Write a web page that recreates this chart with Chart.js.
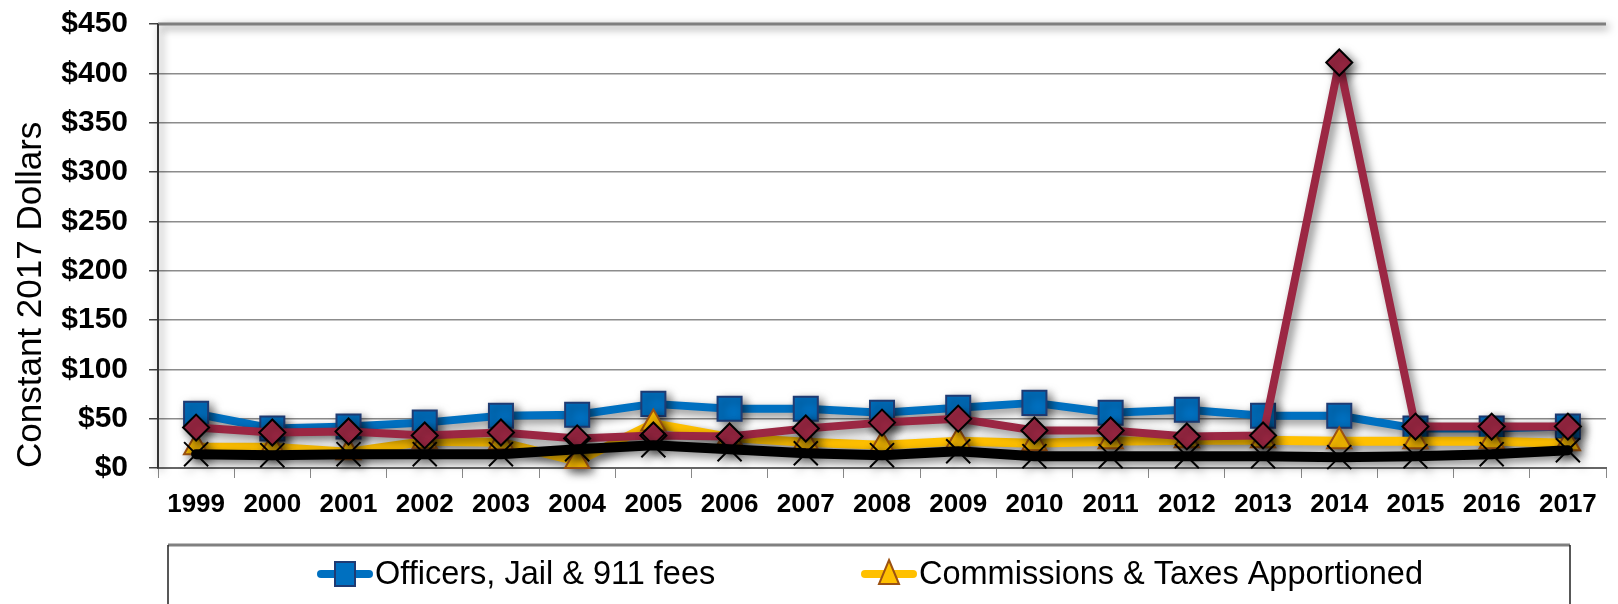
<!DOCTYPE html>
<html>
<head>
<meta charset="utf-8">
<script src="https://cdn.jsdelivr.net/npm/chart.js@4"></script>
<style>
  html, body { margin: 0; padding: 0; background: #fff; overflow: hidden; }
  #wrap { width: 1625px; height: 604px; position: relative; }
</style>
</head>
<body>
<div id="wrap"><canvas id="myChart"></canvas></div>
<script>
const years = ['1999', '2000', '2001', '2002', '2003', '2004', '2005', '2006', '2007', '2008',
    '2009', '2010', '2011', '2012', '2013', '2014', '2015', '2016', '2017'];

const officersFees = [55, 40, 42, 46, 53, 54, 65, 60, 60, 56, 61, 66, 56, 59, 53, 53, 40, 40, 42];
const commissionsTaxes = [21, 21, 16, 27, 26, 7, 45, 31, 26, 23, 27, 25, 27, 28, 28, 27, 27, 27, 25];
const finesForfeitures = [41, 36, 37, 33, 36, 30, 33, 32, 40, 46, 50, 38, 38, 32, 33, 411, 42, 42, 42];
const otherFees = [14, 13, 14, 14, 14, 19, 23, 19, 15, 13, 17, 12, 12, 12, 12, 11, 12, 14, 18];

const yTickLabels = ['$0', '$50', '$100', '$150', '$200', '$250', '$300', '$350', '$400', '$450'];

const FONT = '"Liberation Sans", Arial, sans-serif';

// shadows on the plot frame and on the lines, like the spreadsheet original
const shadowPlugin = {
    id: 'shadowPlugin',
    beforeDatasetsDraw(chart) {
        const ctx = chart.ctx;
        const a = chart.chartArea;
        ctx.save();
        ctx.shadowColor = 'rgba(0,0,0,0.55)';
        ctx.shadowBlur = 8;
        ctx.shadowOffsetX = 3;
        ctx.shadowOffsetY = 3;
        ctx.strokeStyle = '#7f7f7f';
        ctx.lineWidth = 3;
        ctx.beginPath();
        ctx.moveTo(a.left, a.top);
        ctx.lineTo(a.right, a.top);
        ctx.stroke();
        ctx.strokeStyle = '#333';
        ctx.lineWidth = 2;
        ctx.beginPath();
        ctx.moveTo(a.left, a.top);
        ctx.lineTo(a.left, a.bottom);
        ctx.stroke();
        ctx.restore();

        ctx.save();
        ctx.shadowColor = 'rgba(0,0,0,0.5)';
        ctx.shadowBlur = 10;
        ctx.shadowOffsetX = 4;
        ctx.shadowOffsetY = 4;
    },
    afterDatasetsDraw(chart) {
        chart.ctx.restore();
    }
};

function drawMarker(ctx, style, x, y, r) {
    ctx.beginPath();
    if (style === 'rect') {
        ctx.rect(x - r * 0.5, y - r * 0.6, r, r * 1.2);
        ctx.fill();
        ctx.stroke();
    } else if (style === 'triangle') {
        ctx.moveTo(x, y - r * 0.7);
        ctx.lineTo(x + r * 0.5, y + r * 0.5);
        ctx.lineTo(x - r * 0.5, y + r * 0.5);
        ctx.closePath();
        ctx.fill();
        ctx.stroke();
    } else if (style === 'rectRot') {
        ctx.moveTo(x, y - r * 0.6);
        ctx.lineTo(x + r * 0.6, y);
        ctx.lineTo(x, y + r * 0.6);
        ctx.lineTo(x - r * 0.6, y);
        ctx.closePath();
        ctx.fill();
        ctx.stroke();
    } else {
        ctx.moveTo(x - r * 0.5, y - r * 0.5);
        ctx.lineTo(x + r * 0.5, y + r * 0.5);
        ctx.moveTo(x + r * 0.5, y - r * 0.5);
        ctx.lineTo(x - r * 0.5, y + r * 0.5);
        ctx.stroke();
    }
}

// boxed legend in two columns, drawn under the axis
const legendBox = {
    id: 'legendBox',
    afterDraw(chart) {
        const ctx = chart.ctx;
        const boxLeft = 168, boxTop = 545, boxRight = 1570;
        ctx.save();
        ctx.fillStyle = '#fff';
        ctx.fillRect(boxLeft, boxTop, boxRight - boxLeft, 200);
        ctx.strokeStyle = '#808080';
        ctx.lineWidth = 3;
        ctx.beginPath();
        ctx.moveTo(boxLeft, boxTop);
        ctx.lineTo(boxRight, boxTop);
        ctx.stroke();
        ctx.strokeStyle = '#222';
        ctx.lineWidth = 1.5;
        ctx.beginPath();
        ctx.moveTo(boxLeft, boxTop);
        ctx.lineTo(boxLeft, boxTop + 200);
        ctx.moveTo(boxRight, boxTop);
        ctx.lineTo(boxRight, boxTop + 200);
        ctx.stroke();

        const cols = [317, 861];
        const rows = [574, 628];
        chart.data.datasets.forEach((ds, i) => {
            const x = cols[i % 2];
            const y = rows[Math.floor(i / 2)];
            ctx.strokeStyle = ds.borderColor;
            ctx.lineWidth = 8;
            ctx.lineCap = 'round';
            ctx.beginPath();
            ctx.moveTo(x + 4, y);
            ctx.lineTo(x + 52, y);
            ctx.stroke();
            ctx.lineCap = 'butt';
            ctx.fillStyle = ds.pointBackgroundColor;
            ctx.strokeStyle = ds.pointBorderColor;
            ctx.lineWidth = 2;
            drawMarker(ctx, ds.pointStyle, x + 28, y, 20);
            ctx.fillStyle = '#000';
            ctx.font = '32.5px ' + FONT;
            ctx.textBaseline = 'middle';
            ctx.textAlign = 'left';
            ctx.fillText(ds.label, x + 58, y + 1);
        });
        ctx.restore();
    }
};

document.addEventListener('DOMContentLoaded', () => {
    let config = {
        type: 'line',
        data: {
            labels: years,
            datasets: [{
                label: 'Officers, Jail & 911 fees',
                data: officersFees,
                borderColor: '#0070C0',
                borderWidth: 8,
                pointStyle: 'rect',
                pointRadius: 17,
                pointBackgroundColor: '#0070C0',
                pointBorderColor: '#1F3B73',
                pointBorderWidth: 2,
                order: 4
            }, {
                label: 'Commissions & Taxes Apportioned',
                data: commissionsTaxes,
                borderColor: '#FFC000',
                borderWidth: 9,
                pointStyle: 'triangle',
                pointRadius: 14,
                pointBackgroundColor: '#FFC000',
                pointBorderColor: '#9C5212',
                pointBorderWidth: 2,
                order: 3
            }, {
                label: 'Fines & Forfeitures',
                data: finesForfeitures,
                borderColor: '#9B2743',
                borderWidth: 8,
                pointStyle: 'rectRot',
                pointRadius: 13,
                pointBackgroundColor: '#9B2743',
                pointBorderColor: '#000',
                pointBorderWidth: 2,
                order: 2
            }, {
                label: 'Other Fees',
                data: otherFees,
                borderColor: '#000',
                borderWidth: 10,
                pointStyle: 'crossRot',
                pointRadius: 17,
                pointBackgroundColor: '#000',
                pointBorderColor: '#000',
                pointBorderWidth: 2,
                order: 1
            }]
        },
        options: {
            responsive: true,
            maintainAspectRatio: false,
            animation: false,
            clip: 20,
            layout: {
                padding: { left: 0, right: 0, top: 24, bottom: 76 }
            },
            elements: {
                line: { tension: 0, borderCapStyle: 'round', borderJoinStyle: 'round' }
            },
            plugins: {
                legend: { display: false },
                tooltip: { enabled: false }
            },
            scales: {
                x: {
                    offset: true,
                    afterFit: (s) => {
                        s.height = 60;
                        s.paddingLeft = 0;
                        s.paddingRight = 0;
                    },
                    grid: {
                        offset: true,
                        drawOnChartArea: false,
                        drawTicks: true,
                        tickLength: 10,
                        color: '#888'
                    },
                    border: { color: '#666', width: 2 },
                    ticks: {
                        color: '#000',
                        font: { family: FONT, size: 26, weight: 'bold' },
                        padding: 11,
                        maxRotation: 0,
                        autoSkip: false
                    }
                },
                y: {
                    min: 0,
                    max: 450,
                    afterFit: (s) => {
                        s.width = 158;
                        s.paddingTop = 0;
                        s.paddingBottom = 0;
                    },
                    grid: {
                        color: '#8c8c8c',
                        lineWidth: 1.5,
                        drawTicks: true,
                        tickLength: 9,
                        tickColor: '#444'
                    },
                    border: { color: '#333', width: 2 },
                    ticks: {
                        stepSize: 50,
                        color: '#000',
                        font: { family: FONT, size: 30, weight: 'bold' },
                        padding: 21,
                        callback: (value, index) => yTickLabels[index]
                    },
                    title: {
                        display: true,
                        text: 'Constant 2017 Dollars',
                        color: '#000',
                        align: 'start',
                        font: { family: FONT, size: 35 },
                        padding: { top: 10, bottom: 0 }
                    }
                }
            }
        },
        plugins: [shadowPlugin, legendBox]
    };

    let ctx = document.getElementById('myChart').getContext('2d');
    var myChart = new Chart(ctx, config);
});
</script>
</body>
</html>
